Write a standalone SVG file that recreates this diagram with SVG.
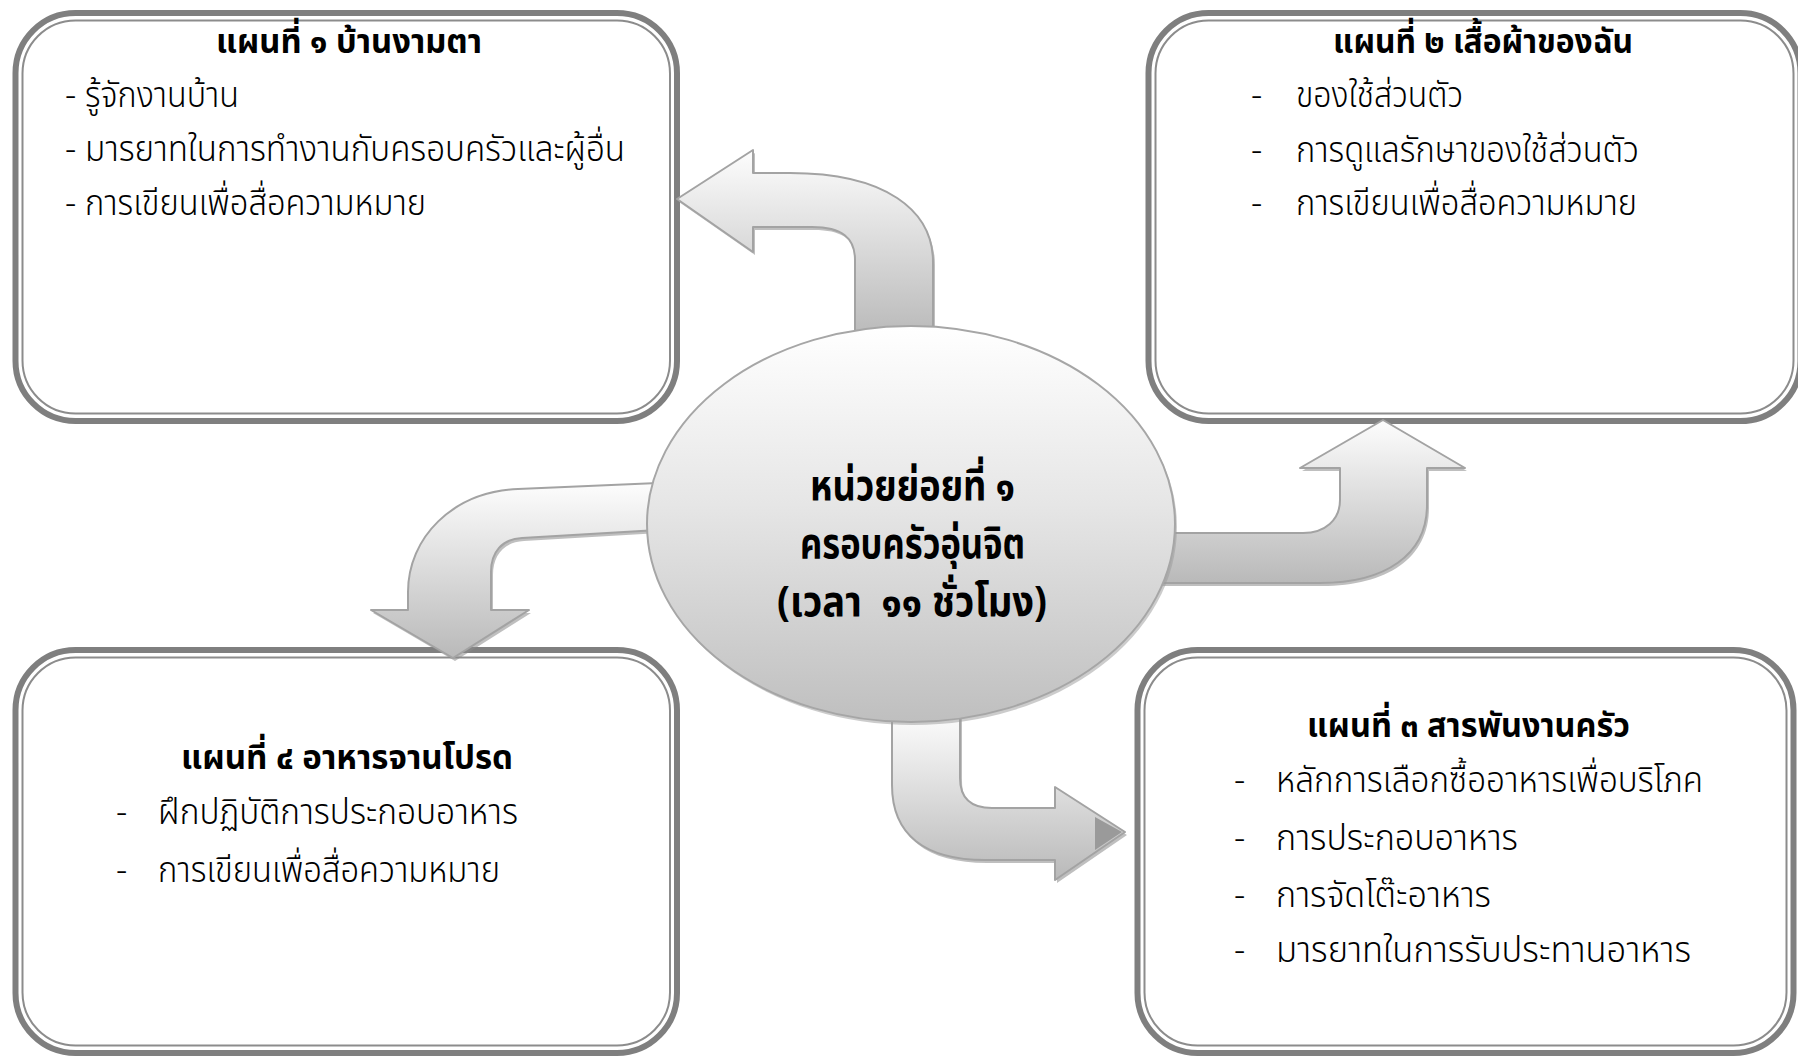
<svg xmlns="http://www.w3.org/2000/svg" width="1798" height="1058" viewBox="0 0 1798 1058">
<style>
.frame-o{fill:#ffffff;stroke:#7f7f7f;stroke-width:6}
.frame-i{fill:none;stroke:#8c8c8c;stroke-width:2}
.t{font-family:'Noto Sans Thai','Noto Sans','DejaVu Sans',sans-serif;fill:#000}
.title{font-size:34px;font-weight:bold}
.body{font-size:35px;font-weight:300}
.center{font-size:42px;font-weight:bold}
.arrow{fill:url(#ag);stroke:#a3a3a3;stroke-width:2;stroke-linejoin:round}
.shadow{fill:#8a8a8a;opacity:0.55}
</style>
<defs>
<linearGradient id="ag" x1="0" y1="0" x2="0" y2="1">
<stop offset="0" stop-color="#fdfdfd"/>
<stop offset="1" stop-color="#b9b9b9"/>
</linearGradient>
<linearGradient id="eg" x1="0" y1="0" x2="0" y2="1">
<stop offset="0" stop-color="#ffffff"/>
<stop offset="0.45" stop-color="#e6e6e6"/>
<stop offset="1" stop-color="#bfbfbf"/>
</linearGradient>
<path id="pa" d="M855 338 L855 260 C855 238 842 227 812 227 L753 227 L753 252 L677 199 L753 150 L753 173 L790 173 C885 173 933 210 933 262 L933 338 Z"/>
<path id="pb" d="M658 483 L518 489 C452 492 408 538 408 592 L408 610 L371 610 L453 658 L529 610 L491 610 L491 572 C491 552 502 539 522 538 L658 530 Z"/>
<path id="pc" d="M1160 533 L1303 533 C1325 533 1340 520 1340 500 L1340 468 L1300 468 L1383 420 L1465 468 L1427 468 L1427 505 C1427 555 1385 583 1320 583 L1160 583 Z"/>
<path id="pd" d="M892 712 L892 785 C892 835 925 860 985 860 L1055 860 L1055 880 L1125 832 L1055 787 L1055 808 L992 808 C970 808 960 798 960 778 L960 712 Z"/>
</defs>

<g id="node-plan1">
<rect class="frame-o" x="15.5" y="13" width="661.5" height="408" rx="60"/>
<rect class="frame-i" x="22.5" y="20.5" width="647.5" height="393" rx="53"/>
<text class="t title" x="216" y="53" textLength="266" lengthAdjust="spacingAndGlyphs">แผนที่ ๑ บ้านงามตา</text>
<text class="t body" x="65" y="107">-</text>
<text class="t body" x="85" y="107" textLength="154" lengthAdjust="spacingAndGlyphs">รู้จักงานบ้าน</text>
<text class="t body" x="65" y="161">-</text>
<text class="t body" x="85" y="161" textLength="540" lengthAdjust="spacingAndGlyphs">มารยาทในการทำงานกับครอบครัวและผู้อื่น</text>
<text class="t body" x="65" y="215">-</text>
<text class="t body" x="85" y="215" textLength="341" lengthAdjust="spacingAndGlyphs">การเขียนเพื่อสื่อความหมาย</text>
</g>

<g id="node-plan2">
<rect class="frame-o" x="1148.5" y="13" width="652" height="408" rx="60"/>
<rect class="frame-i" x="1155.5" y="20.5" width="638" height="393" rx="53"/>
<text class="t title" x="1333" y="53" textLength="300" lengthAdjust="spacingAndGlyphs">แผนที่ ๒ เสื้อผ้าของฉัน</text>
<text class="t body" x="1251" y="107">-</text>
<text class="t body" x="1296" y="107" textLength="167" lengthAdjust="spacingAndGlyphs">ของใช้ส่วนตัว</text>
<text class="t body" x="1251" y="162">-</text>
<text class="t body" x="1296" y="162" textLength="343" lengthAdjust="spacingAndGlyphs">การดูแลรักษาของใช้ส่วนตัว</text>
<text class="t body" x="1251" y="215">-</text>
<text class="t body" x="1296" y="215" textLength="341" lengthAdjust="spacingAndGlyphs">การเขียนเพื่อสื่อความหมาย</text>
</g>

<g id="node-plan4">
<rect class="frame-o" x="15.5" y="650" width="661.5" height="403" rx="60"/>
<rect class="frame-i" x="22.5" y="657.5" width="647.5" height="388" rx="53"/>
<text class="t title" x="181" y="769" textLength="332" lengthAdjust="spacingAndGlyphs">แผนที่ ๔ อาหารจานโปรด</text>
<text class="t body" x="116" y="824">-</text>
<text class="t body" x="158" y="824" textLength="360" lengthAdjust="spacingAndGlyphs">ฝึกปฏิบัติการประกอบอาหาร</text>
<text class="t body" x="116" y="882">-</text>
<text class="t body" x="158" y="882" textLength="342" lengthAdjust="spacingAndGlyphs">การเขียนเพื่อสื่อความหมาย</text>
</g>

<g id="node-plan3">
<rect class="frame-o" x="1137.5" y="650" width="656" height="403" rx="60"/>
<rect class="frame-i" x="1144.5" y="657.5" width="642" height="388" rx="53"/>
<text class="t title" x="1307" y="737" textLength="323" lengthAdjust="spacingAndGlyphs">แผนที่ ๓ สารพันงานครัว</text>
<text class="t body" x="1234" y="792">-</text>
<text class="t body" x="1276" y="792" textLength="427" lengthAdjust="spacingAndGlyphs">หลักการเลือกซื้ออาหารเพื่อบริโภค</text>
<text class="t body" x="1234" y="850">-</text>
<text class="t body" x="1276" y="850" textLength="242" lengthAdjust="spacingAndGlyphs">การประกอบอาหาร</text>
<text class="t body" x="1234" y="907">-</text>
<text class="t body" x="1276" y="907" textLength="215" lengthAdjust="spacingAndGlyphs">การจัดโต๊ะอาหาร</text>
<text class="t body" x="1234" y="962">-</text>
<text class="t body" x="1276" y="962" textLength="415" lengthAdjust="spacingAndGlyphs">มารยาทในการรับประทานอาหาร</text>
</g>

<g id="connectors">
<use href="#pa" class="shadow" transform="translate(2,3)"/>
<use href="#pa" class="arrow"/>
<use href="#pb" class="shadow" transform="translate(2,3)"/>
<use href="#pb" class="arrow"/>
<use href="#pc" class="shadow" transform="translate(2,3)"/>
<use href="#pc" class="arrow"/>
<use href="#pd" class="shadow" transform="translate(2,3)"/>
<use href="#pd" class="arrow"/>
<polygon points="1095,817 1122,832 1095,850" fill="#9a9a9a"/>
</g>

<g id="node-center">
<ellipse cx="913" cy="527" rx="264" ry="198" fill="#9a9a9a" opacity="0.5"/>
<ellipse cx="911" cy="524" rx="264" ry="198" fill="url(#eg)" stroke="#a6a6a6" stroke-width="2"/>
<text class="t center" x="810" y="500" textLength="205" lengthAdjust="spacingAndGlyphs">หน่วยย่อยที่ ๑</text>
<text class="t center" x="800" y="558" textLength="225" lengthAdjust="spacingAndGlyphs">ครอบครัวอุ่นจิต</text>
<text class="t center" x="777" y="616" textLength="270" lengthAdjust="spacingAndGlyphs">(เวลา&#160; ๑๑ ชั่วโมง)</text>
</g>
</svg>
